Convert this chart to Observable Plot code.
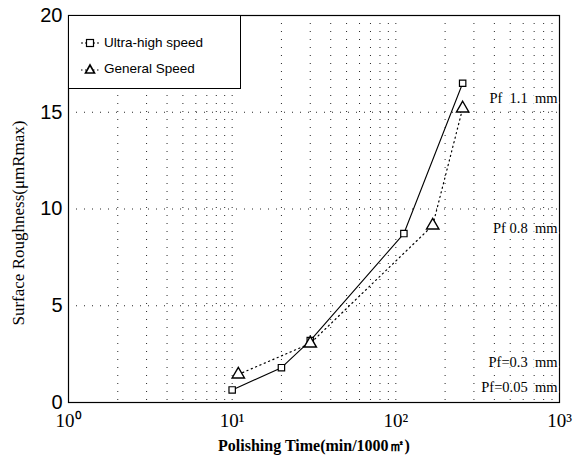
<!DOCTYPE html>
<html>
<head>
<meta charset="utf-8">
<script src="https://cdn.jsdelivr.net/npm/d3@7"></script>
<script src="https://cdn.jsdelivr.net/npm/@observablehq/plot@0.6"></script>
<style>
  body { margin: 0; background: #fff; }
  #wrap { position: relative; width: 574px; height: 461px; }
  #legend { position: absolute; left: 68px; top: 15px; width: 173px; height: 74px; border: 1px solid #000; background: #fff; box-sizing: border-box;
            font-family: "Liberation Sans", Arial, sans-serif; font-size: 13.5px; color: #000; }
  .item { position: absolute; left: 10px; display: flex; align-items: center; }
  .item svg { margin-right: 3px; }
</style>
</head>
<body>
<div id="wrap"></div>
<script>
// ---- data ----
const ultraTime = [10, 20, 30, 112, 256];
const ultraRough = [0.65, 1.8, 3.2, 8.73, 16.5];
const generalTime = [10.9, 30, 168, 256];
const generalRough = [1.45, 3.05, 9.15, 15.2];
const seriesNames = ["Ultra-high speed", "General Speed"];
const xTicks = [1, 10, 100, 1000];
const xTickLabels = ["10\u2070", "10\u00b9", "10\u00b2", "10\u00b3"];
const yTicks = [0, 5, 10, 15, 20];
const pfLabels = ["Pf  1.1  mm", "Pf 0.8  mm", "Pf=0.3  mm", "Pf=0.05  mm"];
const pfY = [15.7, 9.0, 2.1, 0.8];
const xTitle = "Polishing Time(min/1000\u33a1)";
const yTitle = "Surface Roughness(\u03bcmRmax)";

const ultra = ultraTime.map((t, i) => ({t, r: ultraRough[i]}));
const general = generalTime.map((t, i) => ({t, r: generalRough[i]}));
const minorX = [];
for (const d of [1, 10, 100]) for (let k = 2; k <= 9; k++) minorX.push(d * k);
minorX.push(10, 100);
const pf = pfLabels.map((s, i) => ({s, y: pfY[i]}));

const chart = Plot.plot({
  width: 574,
  height: 461,
  marginLeft: 68,
  marginRight: 15,
  marginTop: 15,
  marginBottom: 59,
  x: {type: "log", domain: [1, 1000]},
  y: {domain: [0, 20]},
  style: {background: "#fff"},
  marks: [
    Plot.gridX(minorX, {stroke: "#000", strokeOpacity: 0.85, strokeDasharray: "1,7"}),
    Plot.gridY([5, 10, 15], {stroke: "#000", strokeOpacity: 0.85, strokeDasharray: "1,7"}),
    Plot.frame({stroke: "#000", strokeWidth: 1.2}),
    Plot.axisY(yTicks, {tickSize: 0, tickPadding: 6, fontSize: 20, fontFamily: "Liberation Sans, Arial, sans-serif", label: null, tickFormat: d => String(d)}),
    Plot.axisX(xTicks, {tickSize: 0, tickPadding: 11, fontSize: 19, fontFamily: "Liberation Serif, serif", label: null,
      tickFormat: d => xTickLabels[xTicks.indexOf(d)]}),
    Plot.line(general, {x: "t", y: "r", stroke: "#000", strokeWidth: 1.2, strokeDasharray: "1.2,3.5"}),
    Plot.line(ultra, {x: "t", y: "r", stroke: "#000", strokeWidth: 1.1}),
    Plot.dot(ultra, {x: "t", y: "r", symbol: "square", r: 3.6, fill: "#fff", stroke: "#000", strokeWidth: 1.2}),
    Plot.dot(general, {x: "t", y: "r", symbol: "triangle", r: 4.6, fill: "#fff", stroke: "#000", strokeWidth: 1.4}),
    Plot.text(pf, {y: "y", text: "s", frameAnchor: "right", textAnchor: "end", dx: -2, fontSize: 14.5, fontFamily: "Liberation Serif, serif", fill: "#000", stroke: "#fff", strokeWidth: 3, paintOrder: "stroke"}),
    Plot.text([xTitle], {frameAnchor: "bottom", dy: 48, fontSize: 16, fontWeight: "bold", fontFamily: "Liberation Serif, serif", fill: "#000"}),
    Plot.text([yTitle], {frameAnchor: "left", textAnchor: "middle", rotate: -90, dx: -50, dy: 14, fontSize: 17, letterSpacing: "0.6px", fontFamily: "Liberation Serif, serif", fill: "#000"})
  ]
});
const wrap = document.getElementById("wrap");
wrap.appendChild(chart);

// legend
const leg = document.createElement("div");
leg.id = "legend";
const symbols = [
  '<svg width="22" height="12"><line x1="2" y1="6" x2="20" y2="6" stroke="#000" stroke-dasharray="2,2"/><rect x="7.5" y="2.5" width="7" height="7" fill="#fff" stroke="#000" stroke-width="1.2"/></svg>',
  '<svg width="22" height="12"><line x1="2" y1="7" x2="20" y2="7" stroke="#000" stroke-dasharray="1.5,2.5"/><path d="M11,2 L15.5,10 L6.5,10 Z" fill="#fff" stroke="#000" stroke-width="1.6"/></svg>'
];
seriesNames.forEach((n, i) => {
  const it = document.createElement("div");
  it.className = "item";
  it.style.top = (i === 0 ? 19 : 45) + "px";
  it.innerHTML = symbols[i] + "<span>" + n + "</span>";
  leg.appendChild(it);
});
wrap.appendChild(leg);
</script>
</body>
</html>
